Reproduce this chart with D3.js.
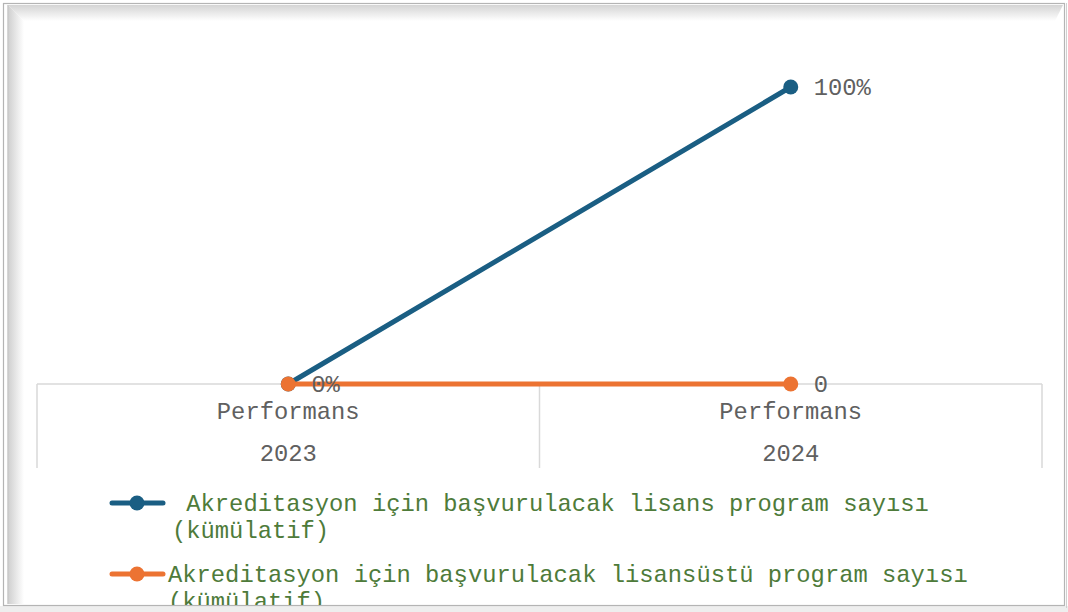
<!DOCTYPE html>
<html>
<head>
<meta charset="utf-8">
<style>
body { margin: 0; background: #fff; }
svg text { font-family: "Liberation Mono", "Courier New", monospace; }
</style>
<script src="https://d3js.org/d3.v7.min.js"></script>
</head>
<body>
<svg id="chart"></svg>
<script>
// data
var years = ["2023", "2024"];
var groupLabel = ["Performans", "Performans"];
var lisansValues = [0, 1];
var lisansLabels = ["0%", "100%"];
var lisansustuValues = [0, 0];
var lisansustuLabels = ["", "0"];  // 2023 label sits under "0%"
var seriesNames = [
  [" Akreditasyon için başvurulacak lisans program sayısı", "(kümülatif)"],
  ["Akreditasyon için başvurulacak lisansüstü program sayısı", "(kümülatif)"]
];
var colors = ["#1a5e83", "#ec7332"];

var W = 1068, H = 612, FS = 23.8;
var svg = d3.select("#chart").attr("width", W).attr("height", H);

// frame with shadow
var defs = svg.append("defs");
var gTop = defs.append("linearGradient").attr("id", "gTop")
    .attr("x1", 0).attr("y1", 0).attr("x2", 0).attr("y2", 1);
gTop.append("stop").attr("offset", "0%").attr("stop-color", "#d4d4d4");
gTop.append("stop").attr("offset", "100%").attr("stop-color", "#fff");
var gLeft = defs.append("linearGradient").attr("id", "gLeft")
    .attr("x1", 0).attr("y1", 0).attr("x2", 1).attr("y2", 0);
gLeft.append("stop").attr("offset", "0%").attr("stop-color", "#cfcfcf");
gLeft.append("stop").attr("offset", "100%").attr("stop-color", "#fff");
defs.append("clipPath").attr("id", "clipIn")
  .append("rect").attr("x", 8).attr("y", 5).attr("width", 1056).attr("height", 600);

svg.append("rect").attr("x", 0).attr("y", 606).attr("width", W).attr("height", 6).attr("fill", "#eeeeee");
svg.append("polygon")
    .attr("points", "8,5 1063,5 1055,21 24,21")
    .attr("fill", "url(#gTop)");
svg.append("polygon")
    .attr("points", "8,5 24,21 24,604 8,604")
    .attr("fill", "url(#gLeft)");
svg.append("rect").attr("x", 3.5).attr("y", 3.5).attr("width", 1061).attr("height", 602)
    .attr("fill", "none").attr("stroke", "#b4b4b4").attr("stroke-width", 1.2);
svg.append("line").attr("x1", 8).attr("x2", 8).attr("y1", 5).attr("y2", 604)
    .attr("stroke", "#c8c8c8").attr("stroke-width", 1.5);
svg.append("line").attr("x1", 1066.5).attr("x2", 1066.5).attr("y1", 3).attr("y2", 608)
    .attr("stroke", "#d0d0d0").attr("stroke-width", 1);

// scales
var x = d3.scaleBand().domain(years).range([37, 1042]).padding(0);
var y = d3.scaleLinear().domain([0, 1]).range([384, 87]);
var cx = function(d) { return x(d) + x.bandwidth() / 2; };

var g = svg.append("g");

// category axis
g.append("line").attr("x1", x.range()[0]).attr("x2", x.range()[1])
    .attr("y1", y(0)).attr("y2", y(0))
    .attr("stroke", "#d9d9d9").attr("stroke-width", 1.5);
var bounds = years.map(function(d) { return x(d); }).concat([x.range()[1]]);
g.selectAll(".sep").data(bounds).enter().append("line")
    .attr("x1", function(d) { return d; }).attr("x2", function(d) { return d; })
    .attr("y1", y(0)).attr("y2", 468)
    .attr("stroke", "#d9d9d9").attr("stroke-width", 1.5);
g.selectAll(".grp").data(years).enter().append("text")
    .attr("x", cx).attr("y", 411).attr("dy", "0.35em")
    .attr("text-anchor", "middle").attr("font-size", FS).attr("fill", "#606060")
    .text(function(d, i) { return groupLabel[i]; });
g.selectAll(".yr").data(years).enter().append("text")
    .attr("x", cx).attr("y", 453).attr("dy", "0.35em")
    .attr("text-anchor", "middle").attr("font-size", FS).attr("fill", "#606060")
    .text(function(d) { return d; });

// series
var series = [
  { values: lisansValues, labels: lisansLabels, color: colors[0] },
  { values: lisansustuValues, labels: lisansustuLabels, color: colors[1] }
];
var line = d3.line()
    .x(function(d, i) { return cx(years[i]); })
    .y(function(d) { return y(d); });

series.forEach(function(s) {
  g.append("path").datum(s.values)
      .attr("d", line).attr("fill", "none")
      .attr("stroke", s.color).attr("stroke-width", 5)
      .attr("stroke-linecap", "round");
  g.selectAll(null).data(s.values).enter().append("circle")
      .attr("cx", function(d, i) { return cx(years[i]); })
      .attr("cy", function(d) { return y(d); })
      .attr("r", 7.5).attr("fill", s.color);
});
series.forEach(function(s) {
  g.selectAll(null).data(s.values).enter().append("text")
      .attr("x", function(d, i) { return cx(years[i]) + 23; })
      .attr("y", function(d) { return y(d); })
      .attr("dy", "0.35em").attr("font-size", FS).attr("fill", "#606060")
      .text(function(d, i) { return s.labels[i]; });
});

// legend
var legend = svg.append("g").attr("clip-path", "url(#clipIn)");
var legendY = [503, 574];
seriesNames.forEach(function(name, i) {
  var ly = legendY[i];
  legend.append("line").attr("x1", 112).attr("x2", 163).attr("y1", ly).attr("y2", ly)
      .attr("stroke", colors[i]).attr("stroke-width", 5).attr("stroke-linecap", "round");
  legend.append("circle").attr("cx", 137).attr("cy", ly).attr("r", 7.5).attr("fill", colors[i]);
  name.forEach(function(t, j) {
    legend.append("text")
        .attr("x", i === 0 ? 172 : 168).attr("y", ly + j * 27).attr("dy", "0.35em")
        .attr("font-size", FS).attr("fill", "#4e7b3a")
        .attr("xml:space", "preserve").style("white-space", "pre")
        .text(t);
  });
});
</script>
</body>
</html>
